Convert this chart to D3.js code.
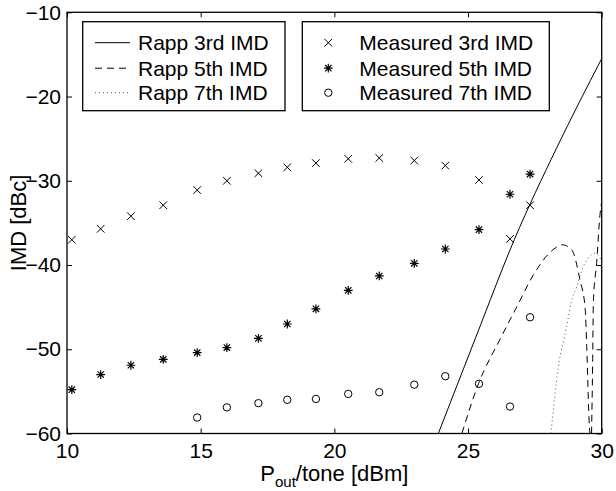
<!DOCTYPE html>
<html><head><meta charset="utf-8">
<script src="https://cdn.jsdelivr.net/npm/d3@7"></script>
<style>
body{margin:0;background:#fff}
text{font-family:"Liberation Sans",Arial,Helvetica,sans-serif;fill:#000}
</style>
</head><body>
<svg id="chart" width="616" height="491"></svg>
<script>
// ---- data ----
const powerX = [10.18, 11.26, 12.39, 13.60, 14.87, 15.98, 17.16, 18.24, 19.31, 20.52, 21.68, 22.99, 24.15, 25.41, 26.57, 27.32];
const measured3 = [-37.0, -35.7, -34.2, -32.9, -31.1, -30.0, -29.1, -28.4, -27.9, -27.4, -27.3, -27.6, -28.2, -29.9, -36.9, -32.9];
const measured5 = [-54.8, -53.0, -51.9, -51.2, -50.4, -49.8, -48.7, -47.0, -45.2, -43.0, -41.3, -39.8, -38.1, -35.8, -31.6, -29.2];
const measured7 = [null, null, null, null, -58.1, -56.9, -56.4, -56.0, -55.9, -55.3, -55.1, -54.2, -53.2, -54.1, -56.8, -46.2];

const rapp3X = [23.89, 25.3, 26.73, 28.3, 30.0];
const rapp3Y = [-60.0, -48.5, -37.0, -26.2, -15.5];
const rapp5X = [24.77, 25.39, 26.2, 26.85, 27.44, 28.07, 28.53, 28.88, 29.19, 29.38, 29.44, 29.54, 29.56];
const rapp5Y = [-60.0, -54.1, -48.8, -44.8, -41.2, -38.5, -37.6, -38.2, -41.8, -45.1, -49.7, -59.2, -60.0];
const rapp5bX = [29.62, 29.66, 29.69, 29.81, 29.94, 30.0];
const rapp5bY = [-60.0, -52.0, -44.2, -39.8, -33.9, -32.5];
const rapp7X = [28.10, 28.38, 28.69, 28.85, 29.06, 29.31, 29.62, 29.75, 29.90, 30.0];
const rapp7Y = [-60.0, -52.1, -47.3, -44.5, -42.6, -40.2, -38.8, -38.6, -39.0, -39.5];

const xTicks = [10, 15, 20, 25, 30];
const yTicks = [-60, -50, -40, -30, -20, -10];
const lineLegend = ["Rapp 3rd IMD", "Rapp 5th IMD", "Rapp 7th IMD"];
const markerLegend = ["Measured 3rd IMD", "Measured 5th IMD", "Measured 7th IMD"];

// ---- layout ----
const L = 67, R = 601.7, T = 12.3, B = 433.5;
const svg = d3.select("#chart");
const x = d3.scaleLinear().domain([10, 30]).range([L, R]);
const y = d3.scaleLinear().domain([-60, -10]).range([B, T]);

svg.append("defs").append("clipPath").attr("id", "clip")
  .append("rect").attr("x", L).attr("y", T).attr("width", R - L).attr("height", B - T);

const FS = 21;
// axes
const gxB = svg.append("g").attr("transform", `translate(0,${B})`)
  .call(d3.axisBottom(x).tickValues(xTicks).tickSizeInner(-5).tickSizeOuter(0).tickPadding(10).tickFormat(d3.format("d")));
const gxT = svg.append("g").attr("transform", `translate(0,${T})`)
  .call(d3.axisTop(x).tickValues(xTicks).tickSizeInner(-5).tickSizeOuter(0).tickFormat(""));
const gyL = svg.append("g").attr("transform", `translate(${L},0)`)
  .call(d3.axisLeft(y).tickValues(yTicks).tickSizeInner(-5).tickSizeOuter(0).tickPadding(6));
const gyR = svg.append("g").attr("transform", `translate(${R},0)`)
  .call(d3.axisRight(y).tickValues(yTicks).tickSizeInner(-5).tickSizeOuter(0).tickFormat(""));
[gxB, gxT, gyL, gyR].forEach(g => {
  g.select(".domain").remove();
  g.selectAll("line").attr("stroke", "#000").attr("stroke-width", 1);
  g.selectAll("text").attr("font-size", FS).attr("font-family", '"Liberation Sans",Arial,sans-serif').attr("fill", "#000");
});

svg.append("rect").attr("x", L).attr("y", T).attr("width", R - L).attr("height", B - T)
  .attr("fill", "none").attr("stroke", "#000").attr("stroke-width", 1.3);

// axis labels
const xl = svg.append("text").attr("x", (L + R) / 2).attr("y", 481).attr("text-anchor", "middle").attr("font-size", 22);
xl.append("tspan").text("P");
xl.append("tspan").attr("font-size", 15).attr("dy", 6).text("out");
xl.append("tspan").attr("dy", -6).text("/tone [dBm]");
svg.append("text").attr("transform", `translate(26,${(T + B) / 2}) rotate(-90)`)
  .attr("text-anchor", "middle").attr("font-size", 22).text("IMD [dBc]");

// curves
const plot = svg.append("g").attr("clip-path", "url(#clip)");
const line = d3.line().x(d => x(d[0])).y(d => y(d[1])).curve(d3.curveMonotoneX);
const styles = [
  {dash: null, color: "#000"},
  {dash: "7,5", color: "#000"},
  {dash: "1,3", color: "#555"}
];
const curves = [
  {xs: rapp3X, ys: rapp3Y, s: 0},
  {xs: rapp5X, ys: rapp5Y, s: 1},
  {xs: rapp5bX, ys: rapp5bY, s: 1},
  {xs: rapp7X, ys: rapp7Y, s: 2}
];
curves.forEach(c => {
  const pts = c.xs.map((v, i) => [v, c.ys[i]]);
  plot.append("path").attr("d", line(pts)).attr("fill", "none")
    .attr("stroke", styles[c.s].color).attr("stroke-width", 1)
    .attr("stroke-dasharray", styles[c.s].dash);
});

// markers
function crossPath(r) { return `M${-r},${-r}L${r},${r}M${-r},${r}L${r},${-r}`; }
function starPath(r) { const a = r * 0.72; return `M${-r},0L${r},0M0,${-r}L0,${r}M${-a},${-a}L${a},${a}M${-a},${a}L${a},${-a}`; }
function drawMarker(g, type, cx, cy) {
  if (type === 0) g.append("path").attr("d", crossPath(3.8)).attr("transform", `translate(${cx},${cy})`).attr("stroke", "#000").attr("stroke-width", 1).attr("fill", "none");
  else if (type === 1) g.append("path").attr("d", starPath(4.4)).attr("transform", `translate(${cx},${cy})`).attr("stroke", "#000").attr("stroke-width", 1.2).attr("fill", "none");
  else g.append("circle").attr("cx", cx).attr("cy", cy).attr("r", 3.7).attr("stroke", "#000").attr("stroke-width", 1).attr("fill", "none");
}
[measured3, measured5, measured7].forEach((arr, k) => {
  arr.forEach((v, i) => { if (v !== null) drawMarker(plot, k, x(powerX[i]), y(v)); });
});

// legends
const rowY = [42.7, 68.2, 92.7];
const lg1 = svg.append("g");
lg1.append("rect").attr("x", 82.7).attr("y", 21.7).attr("width", 202.3).attr("height", 89).attr("fill", "#fff").attr("stroke", "#000").attr("stroke-width", 1.3);
lineLegend.forEach((t, i) => {
  lg1.append("line").attr("x1", 95).attr("x2", 130).attr("y1", rowY[i]).attr("y2", rowY[i])
    .attr("stroke", styles[i].color).attr("stroke-width", 1).attr("stroke-dasharray", styles[i].dash);
  lg1.append("text").attr("x", 138).attr("y", rowY[i]).attr("dy", "0.35em").attr("font-size", FS).text(t);
});
const lg2 = svg.append("g");
lg2.append("rect").attr("x", 302.3).attr("y", 21.7).attr("width", 247).attr("height", 89).attr("fill", "#fff").attr("stroke", "#000").attr("stroke-width", 1.3);
markerLegend.forEach((t, i) => {
  drawMarker(lg2, i, 328.3, rowY[i]);
  lg2.append("text").attr("x", 359.3).attr("y", rowY[i]).attr("dy", "0.35em").attr("font-size", FS).text(t);
});
</script>
</body></html>
